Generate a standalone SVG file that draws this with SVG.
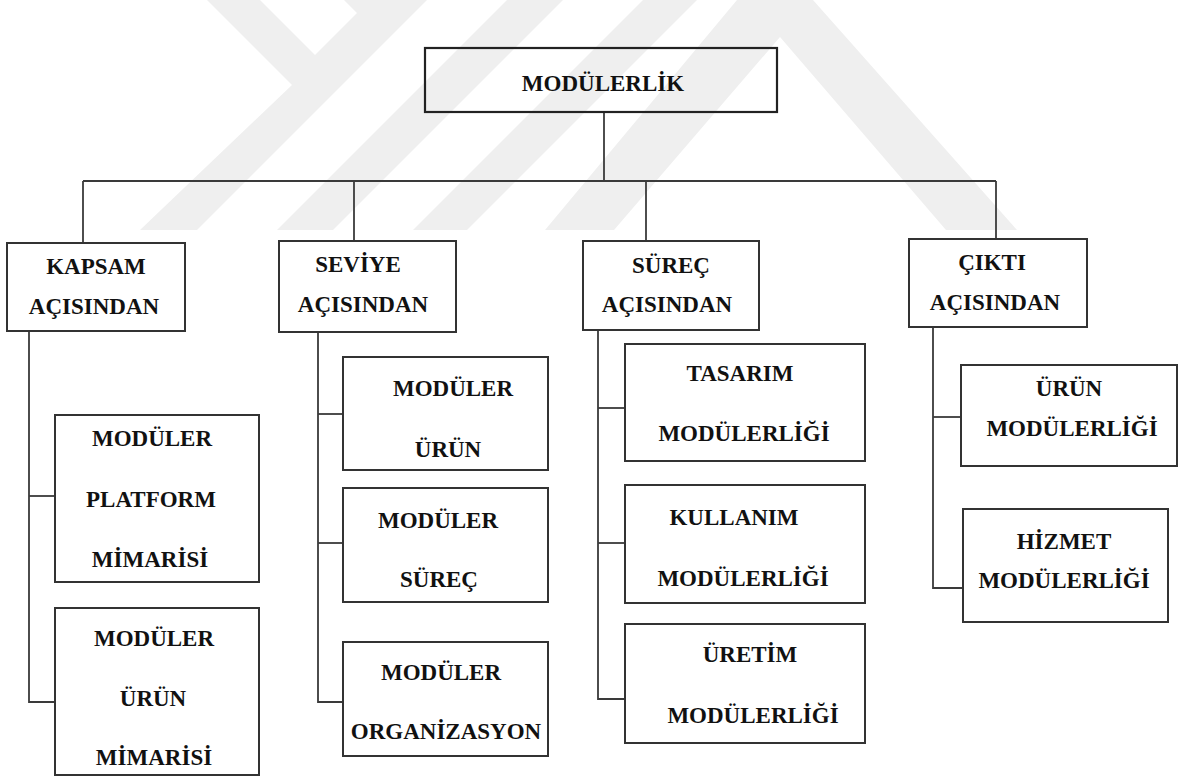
<svg xmlns="http://www.w3.org/2000/svg" width="1180" height="778" viewBox="0 0 1180 778">
  <style>
    .box { fill: none; stroke: #333; stroke-width: 2; }
    .root { fill: none; stroke: #222; stroke-width: 2.2; }
    .wire { fill: none; stroke: #3a3a3a; stroke-width: 1.8; }
    .lbl { font-family: "Liberation Serif", "Times New Roman", serif; font-weight: bold; font-size: 23px; fill: #111; text-anchor: middle; }
    .mark { fill: #efefef; }
  </style>

  <rect x="0" y="0" width="1180" height="778" fill="#ffffff"/>

  <!-- light background emblem -->
  <g id="emblem">
    <polygon class="mark" points="207,0 260,0 315,55 357,13 344,0 427,0 197,230 140,230 292,85"/>
    <polygon class="mark" points="507,0 563,0 333,230 277,230"/>
    <polygon class="mark" points="643,0 697,0 467,230 413,230"/>
    <polygon class="mark" points="737,0 813,0 1017,230 946,230 780,37 614,230 545,230"/>
  </g>

  <!-- connectors -->
  <g id="connectors">
    <line class="wire" x1="604" y1="112" x2="604" y2="181"/>
    <line class="wire" x1="83" y1="181" x2="996" y2="181"/>
    <line class="wire" x1="83" y1="181" x2="83" y2="243"/>
    <line class="wire" x1="354" y1="181" x2="354" y2="241"/>
    <line class="wire" x1="646" y1="181" x2="646" y2="241"/>
    <line class="wire" x1="996" y1="181" x2="996" y2="239"/>

    <polyline class="wire" points="29,331 29,702 55,702"/>
    <line class="wire" x1="29" y1="496" x2="55" y2="496"/>

    <polyline class="wire" points="318,332 318,702 343,702"/>
    <line class="wire" x1="318" y1="414" x2="343" y2="414"/>
    <line class="wire" x1="318" y1="543" x2="343" y2="543"/>

    <polyline class="wire" points="598,330 598,699 625,699"/>
    <line class="wire" x1="598" y1="408" x2="625" y2="408"/>
    <line class="wire" x1="598" y1="543" x2="625" y2="543"/>

    <polyline class="wire" points="933,327 933,588 963,588"/>
    <line class="wire" x1="933" y1="417" x2="961" y2="417"/>
  </g>

  <g id="modulerlik">
    <rect class="root" x="425" y="48" width="352" height="64"/>
    <text class="lbl" x="603" y="91">MODÜLERLİK</text>
  </g>

  <g id="kapsam">
    <rect class="box" x="7" y="243" width="178" height="88"/>
    <text class="lbl" x="96" y="274">KAPSAM</text>
    <text class="lbl" x="94" y="314">AÇISINDAN</text>
  </g>

  <g id="seviye">
    <rect class="box" x="279" y="241" width="177" height="91"/>
    <text class="lbl" x="358" y="272">SEVİYE</text>
    <text class="lbl" x="363" y="312">AÇISINDAN</text>
  </g>

  <g id="surec">
    <rect class="box" x="583" y="241" width="176" height="89"/>
    <text class="lbl" x="671" y="273">SÜREÇ</text>
    <text class="lbl" x="667" y="312">AÇISINDAN</text>
  </g>

  <g id="cikti">
    <rect class="box" x="909" y="239" width="178" height="88"/>
    <text class="lbl" x="992" y="270">ÇIKTI</text>
    <text class="lbl" x="995" y="310">AÇISINDAN</text>
  </g>

  <g id="moduler-platform">
    <rect class="box" x="55" y="415" width="204" height="167"/>
    <text class="lbl" x="152" y="446">MODÜLER</text>
    <text class="lbl" x="151" y="507">PLATFORM</text>
    <text class="lbl" x="150" y="567">MİMARİSİ</text>
  </g>

  <g id="moduler-urun-mimarisi">
    <rect class="box" x="55" y="608" width="204" height="167"/>
    <text class="lbl" x="154" y="646">MODÜLER</text>
    <text class="lbl" x="153" y="706">ÜRÜN</text>
    <text class="lbl" x="154" y="765">MİMARİSİ</text>
  </g>

  <g id="moduler-urun">
    <rect class="box" x="343" y="357" width="205" height="113"/>
    <text class="lbl" x="453" y="396">MODÜLER</text>
    <text class="lbl" x="448" y="457">ÜRÜN</text>
  </g>

  <g id="moduler-surec">
    <rect class="box" x="343" y="488" width="205" height="114"/>
    <text class="lbl" x="438" y="528">MODÜLER</text>
    <text class="lbl" x="439" y="587">SÜREÇ</text>
  </g>

  <g id="moduler-organizasyon">
    <rect class="box" x="343" y="642" width="205" height="114"/>
    <text class="lbl" x="441" y="680">MODÜLER</text>
    <text class="lbl" x="446" y="739">ORGANİZASYON</text>
  </g>

  <g id="tasarim">
    <rect class="box" x="625" y="344" width="240" height="117"/>
    <text class="lbl" x="740" y="381">TASARIM</text>
    <text class="lbl" x="744" y="441">MODÜLERLİĞİ</text>
  </g>

  <g id="kullanim">
    <rect class="box" x="625" y="485" width="240" height="118"/>
    <text class="lbl" x="734" y="525">KULLANIM</text>
    <text class="lbl" x="743" y="586">MODÜLERLİĞİ</text>
  </g>

  <g id="uretim">
    <rect class="box" x="625" y="624" width="240" height="119"/>
    <text class="lbl" x="750" y="662">ÜRETİM</text>
    <text class="lbl" x="753" y="723">MODÜLERLİĞİ</text>
  </g>

  <g id="urun-modulerligi">
    <rect class="box" x="961" y="365" width="216" height="101"/>
    <text class="lbl" x="1069" y="396">ÜRÜN</text>
    <text class="lbl" x="1072" y="436">MODÜLERLİĞİ</text>
  </g>

  <g id="hizmet-modulerligi">
    <rect class="box" x="963" y="509" width="205" height="113"/>
    <text class="lbl" x="1064" y="549">HİZMET</text>
    <text class="lbl" x="1064" y="588">MODÜLERLİĞİ</text>
  </g>
</svg>
